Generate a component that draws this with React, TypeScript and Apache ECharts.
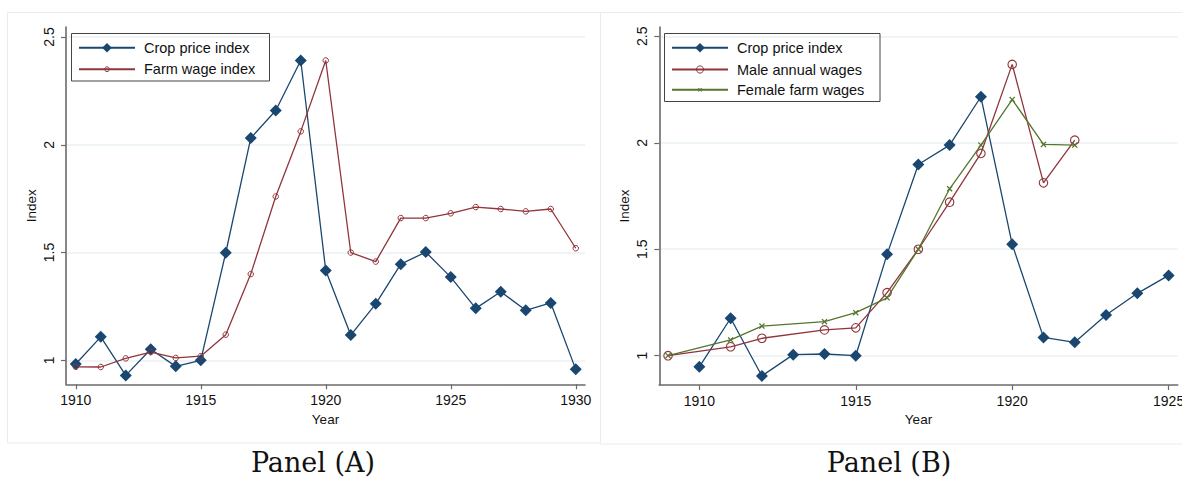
import React, { useEffect, useRef } from "react";
import * as echarts from "echarts";

// ---- Data ----
const yearsA = [1910, 1911, 1912, 1913, 1914, 1915, 1916, 1917, 1918, 1919, 1920, 1921, 1922, 1923, 1924, 1925, 1926, 1927, 1928, 1929, 1930];
const cropA = [0.983, 1.109, 0.93, 1.051, 0.972, 1.0, 1.499, 2.031, 2.159, 2.391, 1.417, 1.117, 1.262, 1.446, 1.502, 1.386, 1.241, 1.318, 1.232, 1.266, 0.958];
const wageA = [0.97, 0.969, 1.009, 1.038, 1.011, 1.019, 1.119, 1.4, 1.76, 2.062, 2.391, 1.5, 1.458, 1.66, 1.66, 1.682, 1.711, 1.702, 1.691, 1.702, 1.52];

const yearsB = [1910, 1911, 1912, 1913, 1914, 1915, 1916, 1917, 1918, 1919, 1920, 1921, 1922, 1923, 1924, 1925];
const cropB = [0.948, 1.176, 0.905, 1.005, 1.008, 1.0, 1.476, 1.898, 1.989, 2.216, 1.523, 1.086, 1.063, 1.191, 1.293, 1.377];
const wageYearsB = [1909, 1911, 1912, 1914, 1915, 1916, 1917, 1918, 1919, 1920, 1921, 1922];
const maleB = [1.0, 1.042, 1.082, 1.121, 1.131, 1.296, 1.5, 1.721, 1.95, 2.368, 1.812, 2.012];
const femaleB = [1.0, 1.074, 1.139, 1.16, 1.202, 1.272, 1.5, 1.784, 1.989, 2.203, 1.992, 1.989];

const xTicksA = [1910, 1915, 1920, 1925, 1930];
const xTicksB = [1910, 1915, 1920, 1925];
const yTicks = [1, 1.5, 2, 2.5];

const NAVY = "#1a476f";
const MAROON = "#90353b";
const GREEN = "#55752f";
const SANS = "'Liberation Sans', Arial, Helvetica, sans-serif";
const AXIS_COLOR = "#6b6b6b";
const GRID_COLOR = "#eaf1f3";
const XMARK = "path://M0,1.5 L1.5,0 L5,3.5 L8.5,0 L10,1.5 L6.5,5 L10,8.5 L8.5,10 L5,6.5 L1.5,10 L0,8.5 L3.5,5 Z";

const pairs = (xs: number[], ys: number[]) => xs.map((x, i) => [x, ys[i]]);

function makeX(gridIndex: number, min: number, max: number, ticks: number[]) {
  return {
    type: "value",
    gridIndex,
    min,
    max,
    axisLine: { show: true, onZero: false, lineStyle: { color: AXIS_COLOR, width: 1.6 } },
    axisTick: { show: true, length: 5, customValues: ticks, lineStyle: { color: AXIS_COLOR, width: 1.2 } },
    axisLabel: { customValues: ticks, margin: 9, fontSize: 14, color: "#111", fontFamily: SANS, formatter: (v: number) => String(v) },
    splitLine: { show: false },
    name: "Year",
    nameLocation: "middle",
    nameGap: 26,
    nameTextStyle: { fontSize: 13.5, color: "#111", fontFamily: SANS },
  };
}

function makeY(gridIndex: number, min: number, max: number) {
  return {
    type: "value",
    gridIndex,
    min,
    max,
    axisLine: { show: true, onZero: false, lineStyle: { color: AXIS_COLOR, width: 1.6 } },
    axisTick: { show: true, length: 5, customValues: yTicks, lineStyle: { color: AXIS_COLOR, width: 1.2 } },
    axisLabel: { customValues: yTicks, rotate: 90, margin: 10, fontSize: 14, color: "#111", fontFamily: SANS, formatter: (v: number) => String(v) },
    splitLine: { show: true, lineStyle: { color: GRID_COLOR, width: 1.5 } },
    name: "Index",
    nameLocation: "middle",
    nameGap: 28,
    nameTextStyle: { fontSize: 13.5, color: "#111", fontFamily: SANS },
  };
}

function makeLegend(name: string, left: number, top: number, itemHeight: number) {
  return {
    show: true,
    data: [name],
    left,
    top,
    orient: "vertical",
    padding: 0,
    itemWidth: 56,
    itemHeight,
    selectedMode: false,
    itemStyle: { borderWidth: 1 },
    textStyle: { fontSize: 14.5, color: "#111", fontFamily: SANS, padding: [0, 0, 0, 4] },
  };
}

export default function App() {
  const ref = useRef<HTMLDivElement>(null);
  useEffect(() => {
    if (!ref.current) return;
    const chart = echarts.init(ref.current, undefined, { renderer: "svg" });
    const option: any = {
      animation: false,
      backgroundColor: "#ffffff",
      grid: [
        { left: 66, top: 27, width: 519, height: 357.3, containLabel: false, outerBoundsMode: "none" },
        { left: 659.3, top: 27, width: 518.4, height: 358, containLabel: false, outerBoundsMode: "none" },
      ],
      xAxis: [makeX(0, 1909.61, 1930.37, xTicksA), makeX(1, 1908.72, 1925.29, xTicksB)],
      yAxis: [makeY(0, 0.8887, 2.5464), makeY(1, 0.8625, 2.5436)],
      legend: [
        makeLegend("Crop price index", 78, 40.3, 12),
        makeLegend("Farm wage index", 78, 61.7, 6),
        makeLegend("Crop price index", 671, 40.3, 12),
        makeLegend("Male annual wages", 671, 62, 9),
        makeLegend("Female farm wages", 671, 82.3, 5),
      ],
      series: [
        {
          name: "Crop price index",
          type: "line",
          xAxisIndex: 0,
          yAxisIndex: 0,
          data: pairs(yearsA, cropA),
          symbol: "diamond",
          symbolSize: 12,
          itemStyle: { color: NAVY },
          lineStyle: { color: NAVY, width: 1.3 },
        },
        {
          name: "Farm wage index",
          type: "line",
          xAxisIndex: 0,
          yAxisIndex: 0,
          data: pairs(yearsA, wageA),
          symbol: "circle",
          symbolSize: 5.5,
          itemStyle: { color: "rgba(255,255,255,0)", borderColor: MAROON, borderWidth: 1 },
          lineStyle: { color: MAROON, width: 1.3 },
        },
        {
          name: "Crop price index",
          type: "line",
          xAxisIndex: 1,
          yAxisIndex: 1,
          data: pairs(yearsB, cropB),
          symbol: "diamond",
          symbolSize: 12,
          itemStyle: { color: NAVY },
          lineStyle: { color: NAVY, width: 1.3 },
        },
        {
          name: "Male annual wages",
          type: "line",
          xAxisIndex: 1,
          yAxisIndex: 1,
          data: pairs(wageYearsB, maleB),
          symbol: "circle",
          symbolSize: 8.5,
          itemStyle: { color: "rgba(255,255,255,0)", borderColor: MAROON, borderWidth: 1.1 },
          lineStyle: { color: MAROON, width: 1.3 },
        },
        {
          name: "Female farm wages",
          type: "line",
          xAxisIndex: 1,
          yAxisIndex: 1,
          data: pairs(wageYearsB, femaleB),
          symbol: XMARK,
          symbolSize: 6,
          itemStyle: { color: GREEN },
          lineStyle: { color: GREEN, width: 1.3 },
        },
      ],
      graphic: [
        { type: "rect", shape: { x: 7.5, y: 12.5, width: 593, height: 430.5 }, style: { fill: "none", stroke: "#e6edef", lineWidth: 1 }, z: -1 },
        { type: "rect", shape: { x: 600.5, y: 12.5, width: 600, height: 431.5 }, style: { fill: "none", stroke: "#e6edef", lineWidth: 1 }, z: -1 },
        { type: "rect", shape: { x: 71.5, y: 33.5, width: 198, height: 47.5 }, style: { fill: "none", stroke: "#444", lineWidth: 1 }, z: 10 },
        { type: "rect", shape: { x: 664.5, y: 33.5, width: 215.5, height: 68 }, style: { fill: "none", stroke: "#444", lineWidth: 1 }, z: 10 },
        { type: "text", x: 313, y: 462, style: { text: "Panel (A)", font: "27px 'DejaVu Serif', Georgia, serif", fill: "#111", textAlign: "center", textVerticalAlign: "middle" } },
        { type: "text", x: 889, y: 462, style: { text: "Panel (B)", font: "27px 'DejaVu Serif', Georgia, serif", fill: "#111", textAlign: "center", textVerticalAlign: "middle" } },
      ],
    };
    chart.setOption(option);
    return () => chart.dispose();
  }, []);
  return <div ref={ref} style={{ position: "absolute", left: 0, top: 0, width: 1182, height: 477, background: "#fff" }} />;
}
